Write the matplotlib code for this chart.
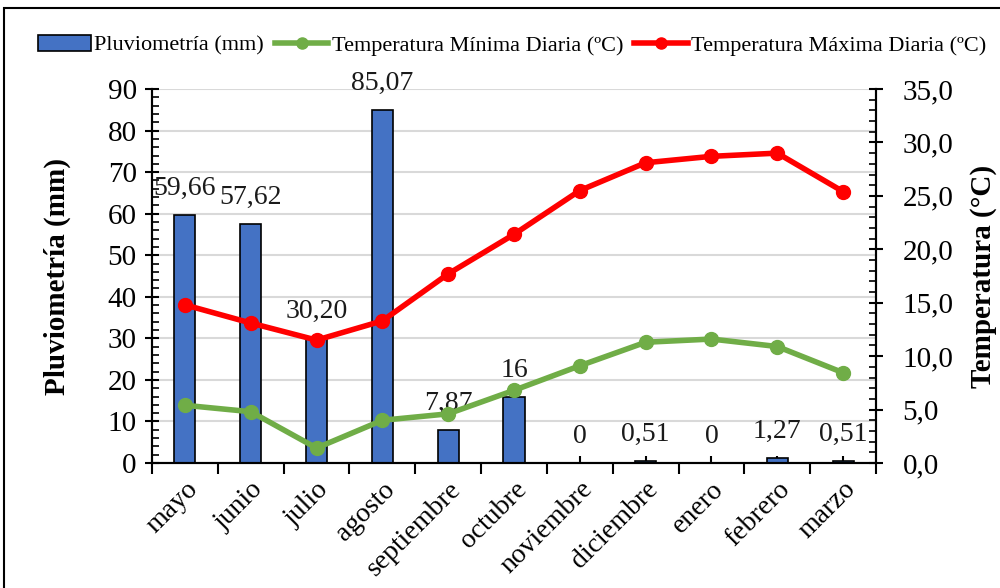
import matplotlib
matplotlib.use('Agg')
import matplotlib.pyplot as plt
from matplotlib.patches import Rectangle, Patch
from matplotlib.lines import Line2D
from matplotlib.ticker import MultipleLocator, FixedLocator, FuncFormatter

plt.rcParams['font.family'] = ['Liberation Serif', 'DejaVu Serif']

# Datos
meses = ['mayo', 'junio', 'julio', 'agosto', 'septiembre', 'octubre',
         'noviembre', 'diciembre', 'enero', 'febrero', 'marzo']
pluviometria = [59.66, 57.62, 30.20, 85.07, 7.87, 16, 0, 0.51, 0, 1.27, 0.51]
etiquetas_pluv = ['59,66', '57,62', '30,20', '85,07', '7,87', '16', '0',
                  '0,51', '0', '1,27', '0,51']
temp_min = [5.4, 4.8, 1.4, 4.0, 4.6, 6.8, 9.1, 11.3, 11.6, 10.9, 8.45]
temp_max = [14.8, 13.1, 11.5, 13.3, 17.7, 21.4, 25.5, 28.1, 28.7, 29.0, 25.4]

azul = '#4472C4'
verde = '#70AD47'
rojo = '#FF0000'

fig = plt.figure(figsize=(10, 5.88), dpi=100)
ax = fig.add_axes([0.152, 0.2126, 0.724, 0.636])
ax2 = ax.twinx()

x = list(range(len(meses)))
ax.bar(x, pluviometria, width=0.32, color=azul, edgecolor='black',
       linewidth=1.2, zorder=2)

for xi, v, lab in zip(x, pluviometria, etiquetas_pluv):
    ax.annotate(lab, (xi, v), xytext=(0, 19), textcoords='offset points',
                ha='center', va='center', fontsize=20, color='#1a1a1a')

ax2.plot(x, temp_min, color=verde, linewidth=4, marker='o', markersize=10,
         zorder=3)
ax2.plot(x, temp_max, color=rojo, linewidth=4, marker='o', markersize=10,
         zorder=3)

ax.set_xlim(-0.5, len(meses) - 0.5)
ax.set_ylim(0, 90)
ax2.set_ylim(0, 35)

ax.yaxis.set_major_locator(MultipleLocator(10))
ax.yaxis.set_minor_locator(MultipleLocator(2))
ax2.yaxis.set_major_locator(MultipleLocator(5))
ax2.yaxis.set_minor_locator(MultipleLocator(1))
ax2.yaxis.set_major_formatter(FuncFormatter(lambda v, p: f'{v:.1f}'.replace('.', ',')))

ax.xaxis.set_major_locator(FixedLocator([i - 0.5 for i in range(len(meses) + 1)]))
ax.xaxis.set_major_formatter(FuncFormatter(lambda v, p: ''))
ax.set_xticks(x, minor=True)
ax.set_xticklabels(meses, minor=True, rotation=45, ha='right',
                   rotation_mode='anchor', fontsize=20)

ax.tick_params(axis='x', which='major', direction='out', length=8, width=1.5)
ax.tick_params(axis='x', which='minor', direction='in', length=5, width=1.5, pad=10)
ax.tick_params(axis='y', which='major', direction='inout', length=10, width=1.5,
               labelsize=21, pad=6)
ax.tick_params(axis='y', which='minor', direction='in', length=5, width=1.2)
ax2.tick_params(axis='y', which='major', direction='inout', length=10, width=1.5,
                labelsize=21, pad=14)
ax2.tick_params(axis='y', which='minor', direction='in', length=5, width=1.2)

ax.grid(axis='y', which='major', color='#d9d9d9', linewidth=1.5, zorder=0)
ax.set_axisbelow(True)

for a in (ax, ax2):
    a.spines['top'].set_visible(False)
    for s in ('left', 'right', 'bottom'):
        a.spines[s].set_linewidth(1.5)

ax.set_ylabel('Pluviometría (mm)', fontsize=21, fontweight='bold', labelpad=26)
ax2.set_ylabel('Temperatura (°C)', fontsize=21, fontweight='bold', labelpad=12)

handles = [
    Patch(facecolor=azul, edgecolor='black', linewidth=1.2),
    Line2D([], [], color=verde, linewidth=4, marker='o', markersize=8),
    Line2D([], [], color=rojo, linewidth=4, marker='o', markersize=8),
]
labels = ['Pluviometría (mm)', 'Temperatura Mínima Diaria (ºC)',
          'Temperatura Máxima Diaria (ºC)']
fig.legend(handles, labels, loc='center', bbox_to_anchor=(0.512, 0.923),
           ncol=3, frameon=False, fontsize=16, handlelength=2.4,
           handletextpad=0.15, columnspacing=0.5)

fig.patches.append(Rectangle((0.004, -0.02), 1.02, 1.006, transform=fig.transFigure,
                             fill=False, edgecolor='black', linewidth=1.5))

fig.savefig('out.png', dpi=100)
